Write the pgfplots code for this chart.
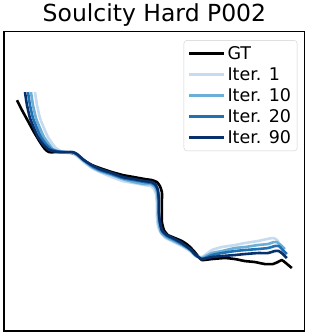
\documentclass[border=0pt]{standalone}
\usepackage{pgfplots}
\pgfplotsset{compat=1.18}
\usepackage{fontspec}
\setmainfont{DejaVu Sans}
\definecolor{it1}{HTML}{C6DBEF}
\definecolor{it10}{HTML}{6BAED6}
\definecolor{it20}{HTML}{2171B5}
\definecolor{it90}{HTML}{08306B}
\begin{document}
\begin{tikzpicture}[x=1pt,y=1pt]
\path (0,0) rectangle (311,335);
\begin{axis}[
  at={(4pt,4pt)}, anchor=south west,
  width=301pt, height=300pt, scale only axis,
  xmin=4, xmax=305, ymin=31, ymax=331, y dir=reverse,
  xtick=\empty, ytick=\empty,
  axis line style={black, line width=1.1pt},
  title={Soulcity Hard P002},
  title style={at={(0.5,1)}, anchor=base, yshift=4pt, font=\fontsize{23.5}{28}\selectfont},
  legend style={at={(0.975,0.97)}, anchor=north east, draw=black!18, rounded corners=3pt,
    font=\fontsize{17.5}{21}\selectfont, row sep=2.6pt, inner xsep=4pt, inner ysep=4pt,
    cells={anchor=west}},
  legend image code/.code={\draw[#1, line width=2.6pt] (0pt,0pt) -- (35pt,0pt);},
  every axis plot/.append style={line width=2.6pt, line join=round, no marks, smooth, tension=0.3},
]
\addplot[black] coordinates {(17,100) (22,110) (28,121) (34,132) (40,142) (45,149) (49,152) (58,152) (66,152) (72,153) (77,155) (84,161) (92,165) (100,168) (112,172) (123,175) (134,177) (145,179) (152,180) (157,182) (160,186) (162,192) (162,202) (162,212) (162,222) (164,230) (168,235) (175,238) (182,241) (188,245) (194,251) (198,256) (202,260) (212,259) (225,258) (235,259) (245,261) (255,262) (265,264) (273,264) (278,262) (282,260) (286,263) (292,268)};
\addlegendentry{GT}
\addplot[it1] coordinates {(35,92) (37,105) (40,118) (44,128) (48,137) (52,143) (56,148) (61,151) (68,153) (73,153) (77,156) (84,162) (92,168) (100,172) (112,177) (123,181) (134,183) (145,185) (151,186) (154,189) (156,194) (157,204) (157,216) (158,226) (161,233) (166,238) (174,242) (182,246) (190,251) (196,256) (202,257) (212,250) (222,247) (235,245) (245,243) (258,241) (267,239) (273,238) (276,239) (279,242)};
\addlegendentry{Iter. 1}
\addplot[it10] coordinates {(31,92) (33,105) (36,118) (40,128) (44,137) (49,144) (53,149) (58,151) (66,152) (72,152) (77,155) (84,161) (92,167) (100,171) (112,175) (123,179) (134,182) (145,184) (151,184) (155,187) (157,192) (158,202) (158,214) (159,224) (161,232) (166,237) (174,241) (182,245) (190,250) (196,256) (202,258) (212,253) (222,251) (235,248) (245,247) (258,245) (268,244) (274,242) (277,242) (281,245) (285,249)};
\addlegendentry{Iter. 10}
\addplot[it20] coordinates {(28,92) (30,105) (33,118) (37,128) (41,137) (46,144) (51,149) (56,151) (64,152) (72,152) (77,154) (84,160) (92,166) (100,170) (112,174) (123,178) (134,180) (145,182) (152,183) (156,186) (158,191) (159,201) (159,213) (160,223) (162,231) (167,236) (175,240) (182,244) (190,249) (196,255) (202,259) (212,255) (222,253) (235,251) (245,250) (258,249) (268,248) (275,246) (279,246) (283,250) (287,254)};
\addlegendentry{Iter. 20}
\addplot[it90] coordinates {(25,92) (27,105) (30,118) (34,128) (38,137) (43,144) (48,149) (53,151) (60,152) (68,152) (73,152) (77,154) (84,160) (92,165) (100,169) (112,173) (123,177) (134,179) (145,181) (152,182) (156,185) (158,190) (159,200) (159,212) (160,222) (162,230) (167,235) (175,239) (182,243) (190,249) (196,255) (202,259) (212,257) (222,256) (235,255) (245,254) (258,253) (268,253) (275,251) (279,251) (283,254) (287,258)};
\addlegendentry{Iter. 90}
\end{axis}
\end{tikzpicture}
\end{document}
